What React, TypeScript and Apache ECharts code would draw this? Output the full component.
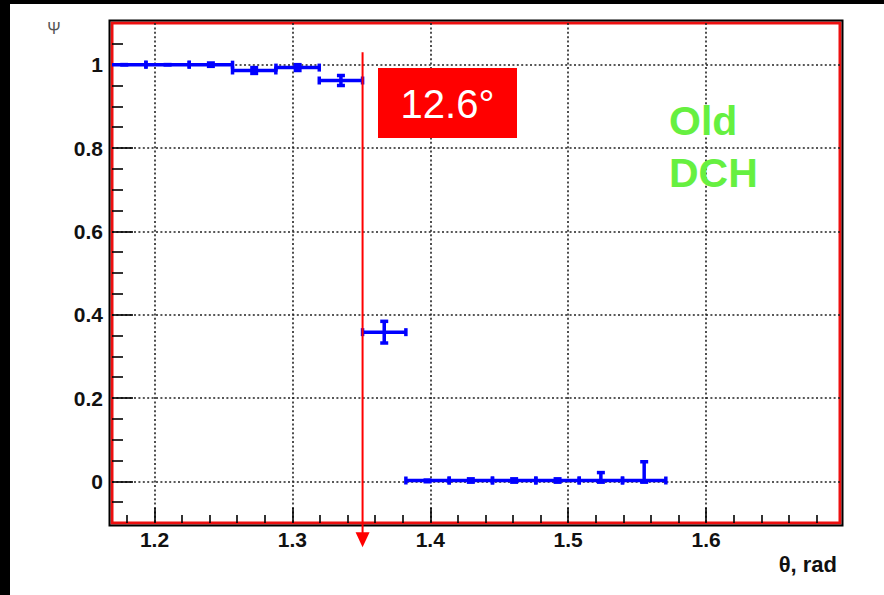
import { useEffect, useRef } from "react";
import * as echarts from "echarts";

// ---- data ----
const thetaCenters = [1.1781, 1.2095, 1.2409, 1.2723, 1.3038, 1.3352, 1.3666, 1.398, 1.4294, 1.4608, 1.4923, 1.5237, 1.5551];
const psiValues = [1.0, 1.0, 1.0, 0.986, 0.993, 0.962, 0.358, 0.002, 0.002, 0.002, 0.002, 0.002, 0.002];
const psiErrLow = [0.0, 0.0, 0.004, 0.007, 0.007, 0.012, 0.026, 0.003, 0.004, 0.004, 0.004, 0.004, 0.004];
const psiErrHigh = [0.0, 0.0, 0.004, 0.007, 0.007, 0.012, 0.026, 0.001, 0.004, 0.004, 0.004, 0.019, 0.045];
const BIN_HALF_WIDTH = 0.0157;

const xMajorTicks = [1.2, 1.3, 1.4, 1.5, 1.6];
const xMinorTicks = [1.18, 1.22, 1.24, 1.26, 1.28, 1.32, 1.34, 1.36, 1.38, 1.42, 1.44, 1.46, 1.48, 1.52, 1.54, 1.56, 1.58, 1.62, 1.64, 1.66, 1.68];
const yMajorTicks = [0, 0.2, 0.4, 0.6, 0.8, 1];
const yMinorTicks = [-0.05, 0.05, 0.1, 0.15, 0.25, 0.3, 0.35, 0.45, 0.5, 0.55, 0.65, 0.7, 0.75, 0.85, 0.9, 0.95, 1.05];

const X_MIN = 1.1692;
const X_MAX = 1.6971;
const Y_MIN = -0.1;
const Y_MAX = 1.1;

const CUT_THETA = 1.3509; // 12.6 degrees from 90°
const ARROW_TOP = 1.03;
const ARROW_BOTTOM = -0.158;

const cutLabel = "12.6°";
const detectorLines = ["Old", "DCH"];
const xName = "θ, rad";
const yName = "Ψ";

// ---- layout / style ----
const GRID = { left: 112, top: 23, width: 728, height: 500 };
const BLUE = "#0000ff";
const RED = "#ff0000";
const GREEN = "#66f040";
const FONT = "Liberation Sans, Arial, Helvetica, sans-serif";

export default function App() {
  const ref = useRef<HTMLDivElement>(null);

  useEffect(() => {
    if (!ref.current) return;
    const chart = echarts.init(ref.current, null, { renderer: "svg" });

    const pts = thetaCenters.map((t, i) => [t, psiValues[i], psiErrLow[i], psiErrHigh[i]]);

    const gridLine = { show: true, lineStyle: { color: "#222", width: 1.6, type: [2, 2.4] as any } };

    const mkX = (major: boolean) => ({
      type: "value",
      position: "bottom",
      min: X_MIN,
      max: X_MAX,
      axisLine: { show: false, onZero: false },
      axisTick: {
        show: true,
        inside: true,
        length: major ? 15 : 8,
        customValues: major ? xMajorTicks : xMinorTicks,
        lineStyle: { color: "#000", width: 1.6 },
      },
      axisLabel: major
        ? { show: true, customValues: xMajorTicks, margin: 6, fontSize: 21, fontWeight: "bold", color: "#111", fontFamily: FONT }
        : { show: false },
      splitLine: major ? gridLine : { show: false },
    });
    const mkY = (major: boolean) => ({
      type: "value",
      position: "left",
      min: Y_MIN,
      max: Y_MAX,
      axisLine: { show: false, onZero: false },
      axisTick: {
        show: true,
        inside: true,
        length: major ? 21 : 11,
        customValues: major ? yMajorTicks : yMinorTicks,
        lineStyle: { color: "#000", width: 1.6 },
      },
      axisLabel: major
        ? { show: true, customValues: yMajorTicks, margin: 9, fontSize: 21, fontWeight: "bold", color: "#111", fontFamily: FONT }
        : { show: false },
      splitLine: major ? gridLine : { show: false },
    });

    const option: any = {
      animation: false,
      backgroundColor: "transparent",
      grid: {
        ...GRID,
        show: true,
        backgroundColor: "#fff",
        borderColor: "#ee1010",
        borderWidth: 3,
        containLabel: false,
      },
      xAxis: [mkX(true), mkX(false)],
      yAxis: [mkY(true), mkY(false)],
      series: [
        {
          type: "custom",
          xAxisIndex: 0,
          yAxisIndex: 0,
          clip: true,
          z: 3,
          data: pts,
          renderItem: (_p: any, api: any) => {
            const x = api.value(0);
            const y = api.value(1);
            const el = api.value(2);
            const eh = api.value(3);
            const pL = api.coord([x - BIN_HALF_WIDTH, y]);
            const pR = api.coord([x + BIN_HALF_WIDTH, y]);
            const pC = api.coord([x, y]);
            const pLo = api.coord([x, y - el]);
            const pHi = api.coord([x, y + eh]);
            const style = { stroke: BLUE, lineWidth: 3.5, lineCap: "butt" };
            const cap = 4;
            const ln = (x1: number, y1: number, x2: number, y2: number) => ({
              type: "line",
              shape: { x1, y1, x2, y2 },
              style,
            });
            return {
              type: "group",
              children: [
                ln(pL[0], pL[1], pR[0], pR[1]),
                ln(pL[0], pL[1] - cap, pL[0], pL[1] + cap),
                ln(pR[0], pR[1] - cap, pR[0], pR[1] + cap),
                ln(pC[0], pLo[1], pC[0], pHi[1]),
                ln(pC[0] - cap, pLo[1], pC[0] + cap, pLo[1]),
                ln(pC[0] - cap, pHi[1], pC[0] + cap, pHi[1]),
              ],
            };
          },
        },
        {
          type: "custom",
          xAxisIndex: 0,
          yAxisIndex: 0,
          clip: false,
          z: 6,
          data: [[CUT_THETA, ARROW_TOP, ARROW_BOTTOM]],
          renderItem: (_p: any, api: any) => {
            const top = api.coord([api.value(0), api.value(1)]);
            const bot = api.coord([api.value(0), api.value(2)]);
            const headH = 15;
            const headW = 7;
            return {
              type: "group",
              children: [
                {
                  type: "line",
                  shape: { x1: top[0], y1: top[1], x2: bot[0], y2: bot[1] - headH + 1 },
                  style: { stroke: RED, lineWidth: 2 },
                },
                {
                  type: "polygon",
                  shape: {
                    points: [
                      [bot[0] - headW, bot[1] - headH],
                      [bot[0] + headW, bot[1] - headH],
                      [bot[0], bot[1]],
                    ],
                  },
                  style: { fill: RED },
                },
              ],
            };
          },
        },
      ],
      graphic: [
        {
          type: "rect",
          z: 1,
          shape: { x: GRID.left - 2.5, y: GRID.top - 2.5, width: GRID.width + 5, height: GRID.height + 5 },
          style: { fill: "none", stroke: "#000", lineWidth: 2 },
          silent: true,
        },
        {
          type: "rect",
          z: 10,
          shape: { x: 378, y: 68, width: 139, height: 70 },
          style: { fill: RED },
        },
        {
          type: "text",
          z: 11,
          x: 447.5,
          y: 104,
          style: {
            text: cutLabel,
            fill: "#fff",
            fontSize: 40,
            fontFamily: FONT,
            align: "center",
            verticalAlign: "middle",
          },
        },
        {
          type: "text",
          z: 11,
          x: 669,
          y: 121,
          style: {
            text: detectorLines[0],
            fill: GREEN,
            fontSize: 41,
            fontWeight: "bold",
            fontFamily: FONT,
            align: "left",
            verticalAlign: "middle",
          },
        },
        {
          type: "text",
          z: 11,
          x: 669,
          y: 173,
          style: {
            text: detectorLines[1],
            fill: GREEN,
            fontSize: 41,
            fontWeight: "bold",
            fontFamily: FONT,
            align: "left",
            verticalAlign: "middle",
          },
        },
        {
          type: "text",
          x: 54,
          y: 28,
          style: {
            text: yName,
            fill: "#555",
            fontSize: 16,
            fontFamily: FONT,
            align: "center",
            verticalAlign: "middle",
          },
        },
        {
          type: "text",
          x: 837,
          y: 564,
          style: {
            text: xName,
            fill: "#111",
            fontSize: 22,
            fontWeight: "bold",
            fontFamily: FONT,
            align: "right",
            verticalAlign: "middle",
          },
        },
      ],
    };

    chart.setOption(option);
    return () => chart.dispose();
  }, []);

  return (
    <div style={{ position: "fixed", left: 0, top: 0, width: 884, height: 595, background: "#000" }}>
      <div style={{ position: "absolute", left: 10, top: 4, right: 0, bottom: 0, background: "#fff" }} />
      <div ref={ref} style={{ position: "absolute", left: 0, top: 0, width: 884, height: 595 }} />
    </div>
  );
}
